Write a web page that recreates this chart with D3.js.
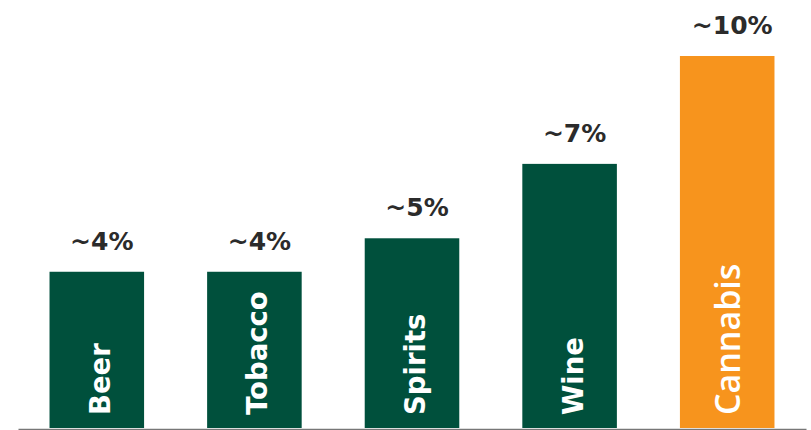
<!DOCTYPE html>
<html>
<head>
<meta charset="utf-8">
<script src="https://cdn.jsdelivr.net/npm/d3@7"></script>
<style>
  body { margin: 0; background: #fff; }
  svg { display: block; font-family: "DejaVu Sans", sans-serif; }
</style>
</head>
<body>
<div id="container"></div>
<script>
let categories = ['Beer', 'Tobacco', 'Spirits', 'Wine', 'Cannabis'],
  values = [4.2, 4.2, 5.1, 7.1, 10],
  value_labels = ['~4%', '~4%', '~5%', '~7%', '~10%'],
  width = 811,
  height = 430,
  baseline = 428

let svg = d3.select('#container')
  .append('svg')
  .attr('width', width)
  .attr('height', height)

let scale_x = d3.scaleBand()
  .domain(categories)
  .range([18, 806])
  .paddingInner(0.4)
  .paddingOuter(0.2)

let scale_y = d3.scaleLinear()
  .domain([0, 10])
  .range([baseline, 56])

let highlight = d => d === 'Cannabis'

svg.selectAll('rect.bar')
  .data(categories).enter().append('rect')
  .attr('class', 'bar')
  .attr('x', d => scale_x(d))
  .attr('y', (d, i) => scale_y(values[i]))
  .attr('width', scale_x.bandwidth())
  .attr('height', (d, i) => baseline - scale_y(values[i]))
  .attr('fill', d => highlight(d) ? '#f7941d' : '#00503c')

// value labels above bars
svg.selectAll('text.val')
  .data(categories).enter().append('text')
  .attr('class', 'val')
  .attr('x', d => scale_x(d) + scale_x.bandwidth() / 2 + 5)
  .attr('y', (d, i) => scale_y(values[i]) - 22)
  .attr('text-anchor', 'middle')
  .attr('font-size', 25)
  .attr('font-weight', 700)
  .attr('fill', '#2b2b2b')
  .text((d, i) => value_labels[i])

// rotated category names inside bars
svg.selectAll('text.cat')
  .data(categories).enter().append('text')
  .attr('class', 'cat')
  .attr('transform', d => 'translate(' + (scale_x(d) + scale_x.bandwidth() / 2 + 13) + ',' + (baseline - 13) + ') rotate(-90)')
  .attr('font-family', d => highlight(d) ? '"Open Sans", sans-serif' : null)
  .attr('font-size', d => highlight(d) ? 34 : 27.5)
  .attr('font-weight', d => highlight(d) ? 600 : 700)
  .attr('fill', '#fff')
  .text(d => d)

let x_axis = d3.axisBottom(scale_x).tickSize(0).tickFormat('')
svg.append('g')
  .attr('transform', 'translate(0,' + (baseline + 1) + ')')
  .call(x_axis)
  .call(g => g.select('.domain').attr('stroke', '#777').attr('stroke-width', 1.5))
</script>
</body>
</html>
